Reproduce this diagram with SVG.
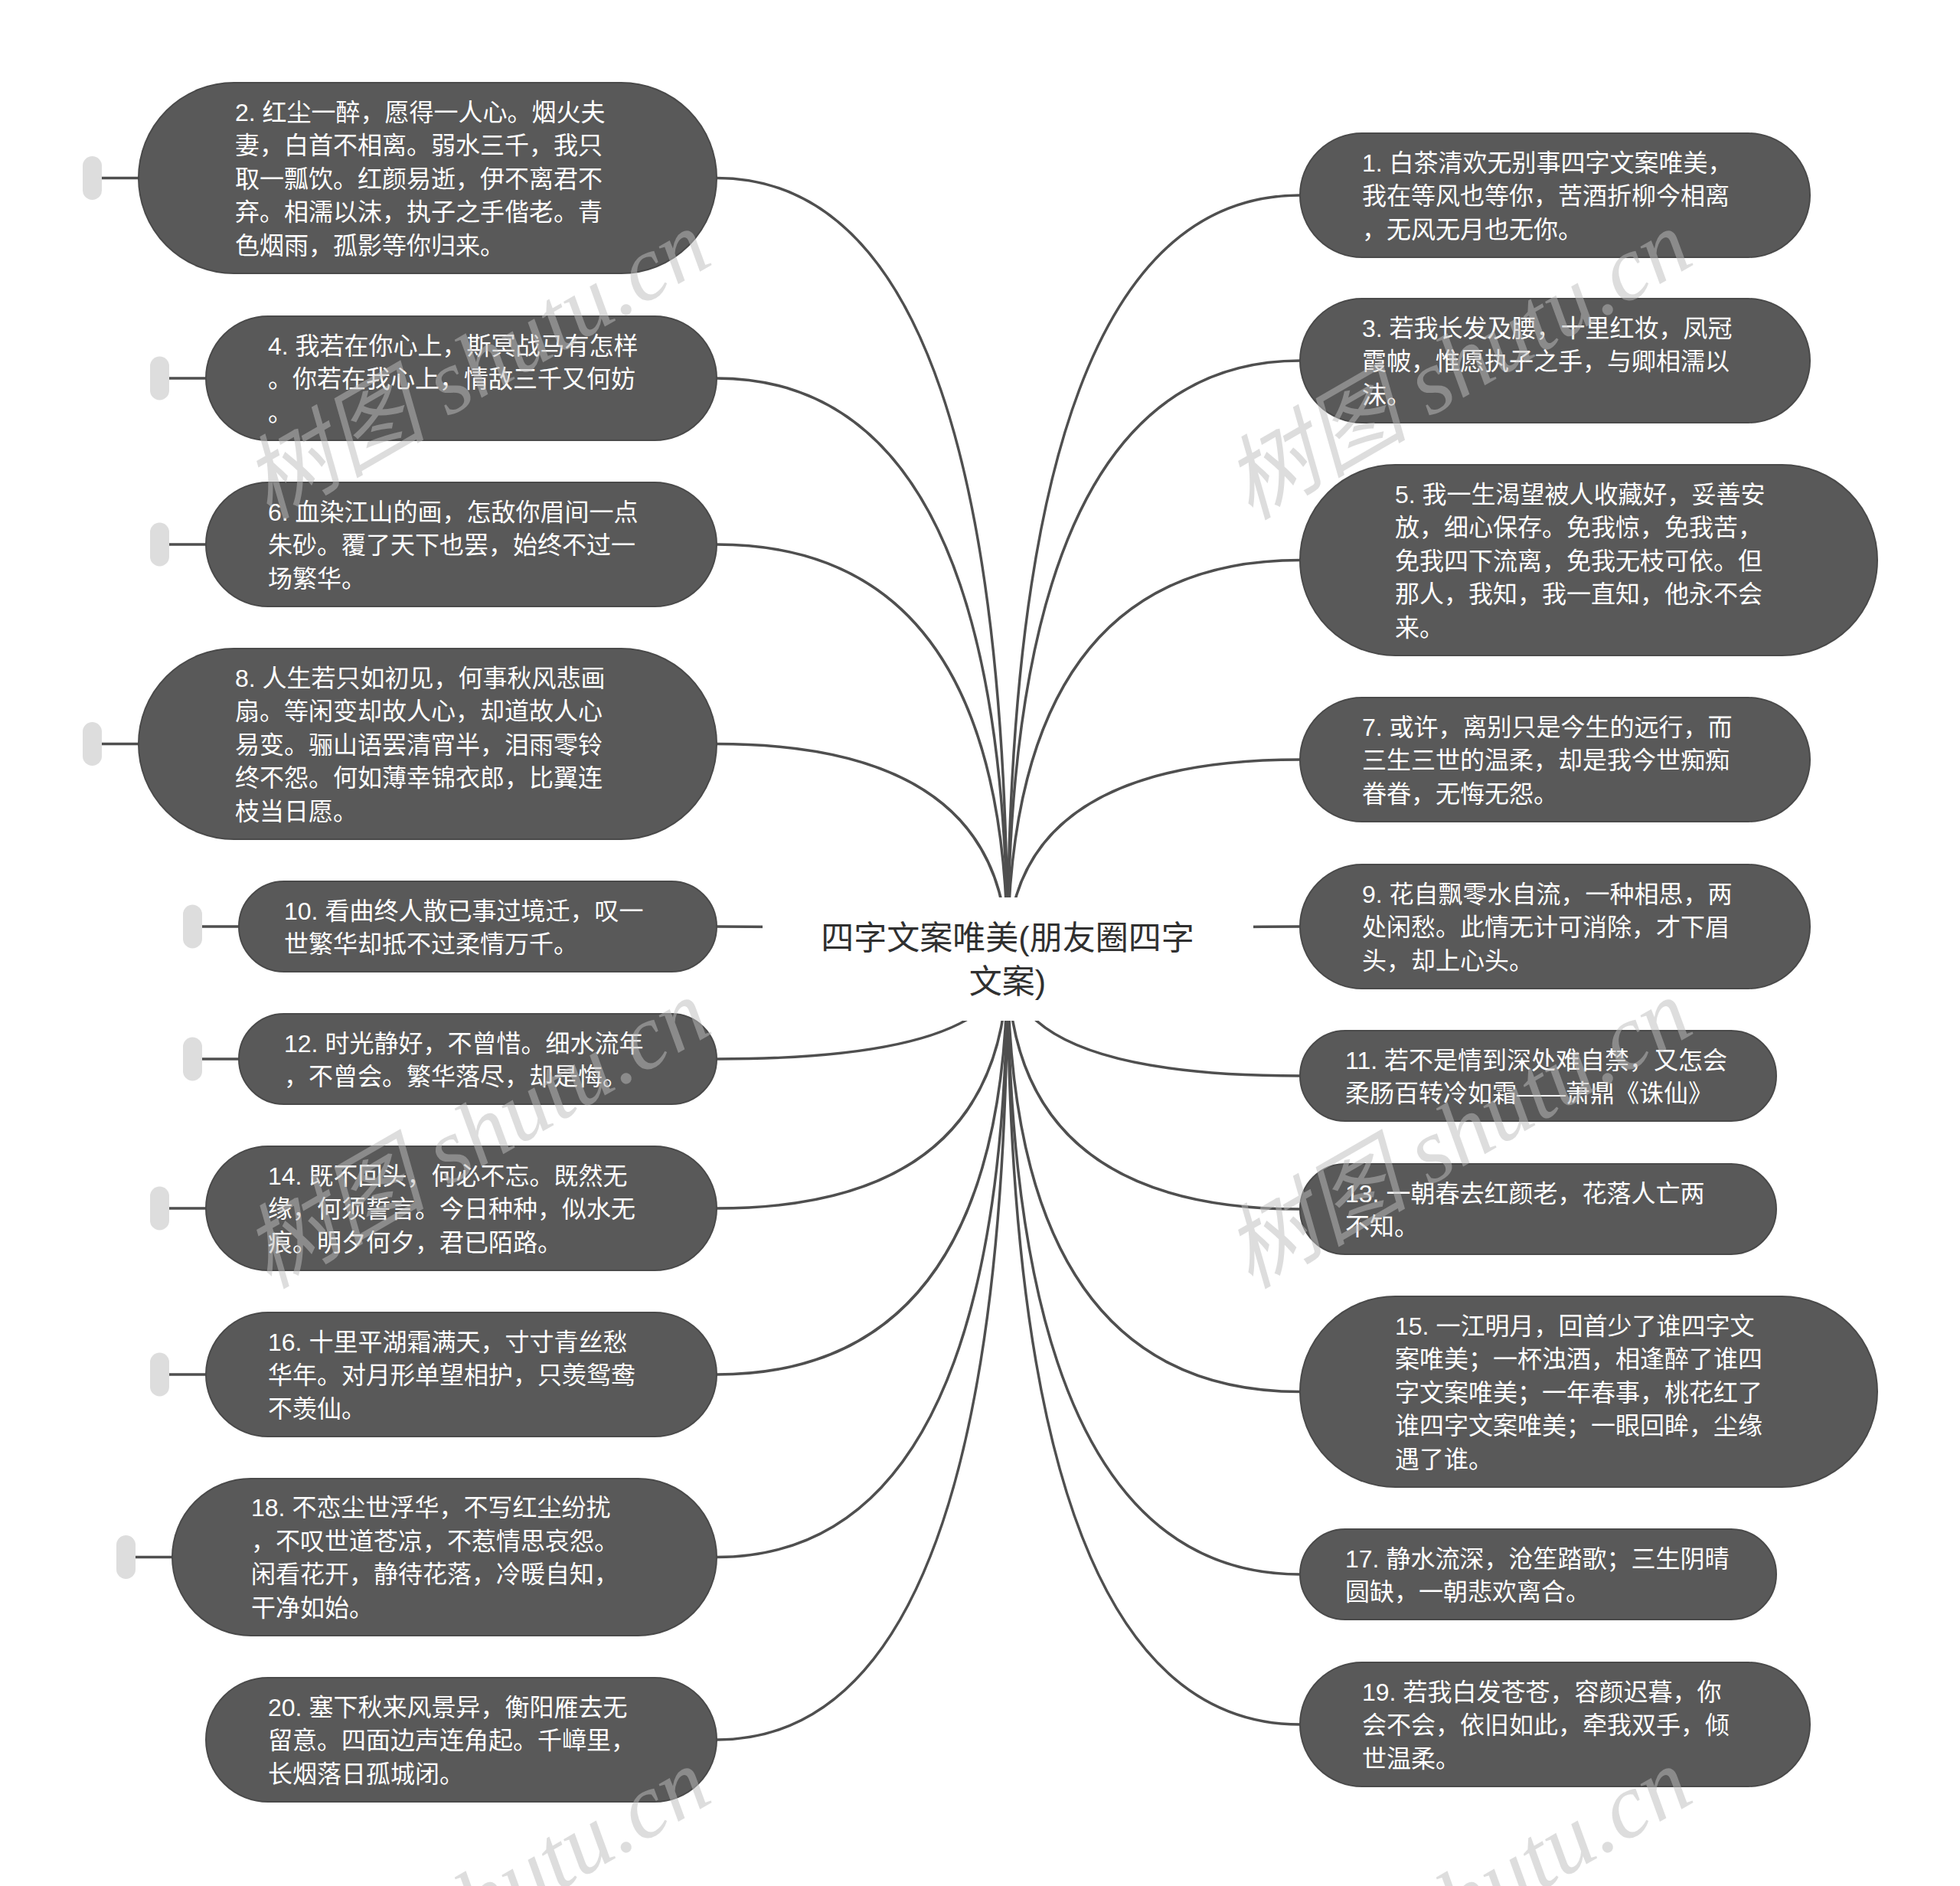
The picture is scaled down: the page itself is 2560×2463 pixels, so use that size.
<svg xmlns="http://www.w3.org/2000/svg" width="2560" height="2463" viewBox="0 0 2560 2463">
<style>
.bg{fill:#ffffff}
.edge{fill:none;stroke:#4f4f4f;stroke-width:3.5}
.box{fill:#595959;stroke:#4a4a4a;stroke-width:2}
.pill{fill:#dddddd}
.t{font-family:"Liberation Sans","Noto Sans CJK SC",sans-serif;font-size:32px;fill:#ffffff}
.root{font-family:"Liberation Sans","Noto Sans CJK SC",sans-serif;font-size:43px;fill:#303030;text-anchor:middle}
.wm{font-family:"Liberation Serif","Noto Sans CJK SC",serif;font-style:italic;font-size:120px;fill:#bdbdbd;opacity:0.5}
</style>
<rect class="bg" x="0" y="0" width="2560" height="2463"/>
<g id="connectors">
<path class="edge" d="M936 232.5 Q1316 232.5 1316 1252"/>
<path class="edge" d="M936 494 Q1316 494 1316 1252"/>
<path class="edge" d="M936 711 Q1316 711 1316 1252"/>
<path class="edge" d="M936 971.5 Q1316 971.5 1316 1252"/>
<path class="edge" d="M936 1210 Q1316 1210 1316 1252"/>
<path class="edge" d="M936 1383 Q1316 1383 1316 1252"/>
<path class="edge" d="M936 1578 Q1316 1578 1316 1252"/>
<path class="edge" d="M936 1795 Q1316 1795 1316 1252"/>
<path class="edge" d="M936 2033.5 Q1316 2033.5 1316 1252"/>
<path class="edge" d="M936 2272 Q1316 2272 1316 1252"/>
<path class="edge" d="M1698 255 Q1316 255 1316 1252"/>
<path class="edge" d="M1698 471 Q1316 471 1316 1252"/>
<path class="edge" d="M1698 731.5 Q1316 731.5 1316 1252"/>
<path class="edge" d="M1698 992 Q1316 992 1316 1252"/>
<path class="edge" d="M1698 1210 Q1316 1210 1316 1252"/>
<path class="edge" d="M1698 1405 Q1316 1405 1316 1252"/>
<path class="edge" d="M1698 1579 Q1316 1579 1316 1252"/>
<path class="edge" d="M1698 1817.5 Q1316 1817.5 1316 1252"/>
<path class="edge" d="M1698 2056 Q1316 2056 1316 1252"/>
<path class="edge" d="M1698 2252 Q1316 2252 1316 1252"/>
<path class="edge" d="M120 232.5 H181"/>
<path class="edge" d="M208 494 H269"/>
<path class="edge" d="M208 711 H269"/>
<path class="edge" d="M120 971.5 H181"/>
<path class="edge" d="M251 1210 H312"/>
<path class="edge" d="M251 1383 H312"/>
<path class="edge" d="M208 1578 H269"/>
<path class="edge" d="M208 1795 H269"/>
<path class="edge" d="M164 2033.5 H225"/>
</g>
<g id="root">
<rect class="bg" x="996" y="1172" width="641" height="161"/>
<text class="root" x="1316" y="1240">四字文案唯美(朋友圈四字</text>
<text class="root" x="1316" y="1297">文案)</text>
</g>
<g id="n2">
<rect class="pill" x="108" y="204" width="25" height="57" rx="12.5"/>
<rect class="box" x="181" y="108" width="755" height="249" rx="124.5"/>
<text class="t"><tspan x="307" y="157.5">2. 红尘一醉，愿得一人心。烟火夫</tspan><tspan x="307" y="201">妻，白首不相离。弱水三千，我只</tspan><tspan x="307" y="244.5">取一瓢饮。红颜易逝，伊不离君不</tspan><tspan x="307" y="288">弃。相濡以沫，执子之手偕老。青</tspan><tspan x="307" y="331.5">色烟雨，孤影等你归来。</tspan></text>
</g>
<g id="n4">
<rect class="pill" x="196" y="465.5" width="25" height="57" rx="12.5"/>
<rect class="box" x="269" y="413" width="667" height="162" rx="81"/>
<text class="t"><tspan x="350" y="462.5">4. 我若在你心上，斯冥战马有怎样</tspan><tspan x="350" y="506">。你若在我心上，情敌三千又何妨</tspan><tspan x="350" y="549.5">。</tspan></text>
</g>
<g id="n6">
<rect class="pill" x="196" y="682.5" width="25" height="57" rx="12.5"/>
<rect class="box" x="269" y="630" width="667" height="162" rx="81"/>
<text class="t"><tspan x="350" y="679.5">6. 血染江山的画，怎敌你眉间一点</tspan><tspan x="350" y="723">朱砂。覆了天下也罢，始终不过一</tspan><tspan x="350" y="766.5">场繁华。</tspan></text>
</g>
<g id="n8">
<rect class="pill" x="108" y="943" width="25" height="57" rx="12.5"/>
<rect class="box" x="181" y="847" width="755" height="249" rx="124.5"/>
<text class="t"><tspan x="307" y="896.5">8. 人生若只如初见，何事秋风悲画</tspan><tspan x="307" y="940">扇。等闲变却故人心，却道故人心</tspan><tspan x="307" y="983.5">易变。骊山语罢清宵半，泪雨零铃</tspan><tspan x="307" y="1027">终不怨。何如薄幸锦衣郎，比翼连</tspan><tspan x="307" y="1070.5">枝当日愿。</tspan></text>
</g>
<g id="n10">
<rect class="pill" x="239" y="1181.5" width="25" height="57" rx="12.5"/>
<rect class="box" x="312" y="1151" width="624" height="118" rx="59"/>
<text class="t"><tspan x="371" y="1200.5">10. 看曲终人散已事过境迁，叹一</tspan><tspan x="371" y="1244">世繁华却抵不过柔情万千。</tspan></text>
</g>
<g id="n12">
<rect class="pill" x="239" y="1354.5" width="25" height="57" rx="12.5"/>
<rect class="box" x="312" y="1324" width="624" height="118" rx="59"/>
<text class="t"><tspan x="371" y="1373.5">12. 时光静好，不曾惜。细水流年</tspan><tspan x="371" y="1417">，不曾会。繁华落尽，却是悔。</tspan></text>
</g>
<g id="n14">
<rect class="pill" x="196" y="1549.5" width="25" height="57" rx="12.5"/>
<rect class="box" x="269" y="1497" width="667" height="162" rx="81"/>
<text class="t"><tspan x="350" y="1546.5">14. 既不回头，何必不忘。既然无</tspan><tspan x="350" y="1590">缘，何须誓言。今日种种，似水无</tspan><tspan x="350" y="1633.5">痕。明夕何夕，君已陌路。</tspan></text>
</g>
<g id="n16">
<rect class="pill" x="196" y="1766.5" width="25" height="57" rx="12.5"/>
<rect class="box" x="269" y="1714" width="667" height="162" rx="81"/>
<text class="t"><tspan x="350" y="1763.5">16. 十里平湖霜满天，寸寸青丝愁</tspan><tspan x="350" y="1807">华年。对月形单望相护，只羡鸳鸯</tspan><tspan x="350" y="1850.5">不羡仙。</tspan></text>
</g>
<g id="n18">
<rect class="pill" x="152" y="2005" width="25" height="57" rx="12.5"/>
<rect class="box" x="225" y="1931" width="711" height="205" rx="102.5"/>
<text class="t"><tspan x="328" y="1980.25">18. 不恋尘世浮华，不写红尘纷扰</tspan><tspan x="328" y="2023.75">，不叹世道苍凉，不惹情思哀怨。</tspan><tspan x="328" y="2067.25">闲看花开，静待花落，冷暖自知，</tspan><tspan x="328" y="2110.75">干净如始。</tspan></text>
</g>
<g id="n20">
<rect class="box" x="269" y="2191" width="667" height="162" rx="81"/>
<text class="t"><tspan x="350" y="2240.5">20. 塞下秋来风景异，衡阳雁去无</tspan><tspan x="350" y="2284">留意。四面边声连角起。千嶂里，</tspan><tspan x="350" y="2327.5">长烟落日孤城闭。</tspan></text>
</g>
<g id="n1">
<rect class="box" x="1698" y="174" width="666" height="162" rx="81"/>
<text class="t"><tspan x="1779" y="223.5">1. 白茶清欢无别事四字文案唯美，</tspan><tspan x="1779" y="267">我在等风也等你，苦酒折柳今相离</tspan><tspan x="1779" y="310.5">，无风无月也无你。</tspan></text>
</g>
<g id="n3">
<rect class="box" x="1698" y="390" width="666" height="162" rx="81"/>
<text class="t"><tspan x="1779" y="439.5">3. 若我长发及腰，十里红妆，凤冠</tspan><tspan x="1779" y="483">霞帔，惟愿执子之手，与卿相濡以</tspan><tspan x="1779" y="526.5">沫。</tspan></text>
</g>
<g id="n5">
<rect class="box" x="1698" y="607" width="754" height="249" rx="124.5"/>
<text class="t"><tspan x="1822" y="656.5">5. 我一生渴望被人收藏好，妥善安</tspan><tspan x="1822" y="700">放，细心保存。免我惊，免我苦，</tspan><tspan x="1822" y="743.5">免我四下流离，免我无枝可依。但</tspan><tspan x="1822" y="787">那人，我知，我一直知，他永不会</tspan><tspan x="1822" y="830.5">来。</tspan></text>
</g>
<g id="n7">
<rect class="box" x="1698" y="911" width="666" height="162" rx="81"/>
<text class="t"><tspan x="1779" y="960.5">7. 或许，离别只是今生的远行，而</tspan><tspan x="1779" y="1004">三生三世的温柔，却是我今世痴痴</tspan><tspan x="1779" y="1047.5">眷眷，无悔无怨。</tspan></text>
</g>
<g id="n9">
<rect class="box" x="1698" y="1129" width="666" height="162" rx="81"/>
<text class="t"><tspan x="1779" y="1178.5">9. 花自飘零水自流，一种相思，两</tspan><tspan x="1779" y="1222">处闲愁。此情无计可消除，才下眉</tspan><tspan x="1779" y="1265.5">头，却上心头。</tspan></text>
</g>
<g id="n11">
<rect class="box" x="1698" y="1346" width="622" height="118" rx="59"/>
<text class="t"><tspan x="1757" y="1395.5">11. 若不是情到深处难自禁，又怎会</tspan><tspan x="1757" y="1439">柔肠百转冷如霜——萧鼎《诛仙》</tspan></text>
</g>
<g id="n13">
<rect class="box" x="1698" y="1520" width="622" height="118" rx="59"/>
<text class="t"><tspan x="1757" y="1569.5">13. 一朝春去红颜老，花落人亡两</tspan><tspan x="1757" y="1613">不知。</tspan></text>
</g>
<g id="n15">
<rect class="box" x="1698" y="1693" width="754" height="249" rx="124.5"/>
<text class="t"><tspan x="1822" y="1742.5">15. 一江明月，回首少了谁四字文</tspan><tspan x="1822" y="1786">案唯美；一杯浊酒，相逢醉了谁四</tspan><tspan x="1822" y="1829.5">字文案唯美；一年春事，桃花红了</tspan><tspan x="1822" y="1873">谁四字文案唯美；一眼回眸，尘缘</tspan><tspan x="1822" y="1916.5">遇了谁。</tspan></text>
</g>
<g id="n17">
<rect class="box" x="1698" y="1997" width="622" height="118" rx="59"/>
<text class="t"><tspan x="1757" y="2046.5">17. 静水流深，沧笙踏歌；三生阴晴</tspan><tspan x="1757" y="2090">圆缺，一朝悲欢离合。</tspan></text>
</g>
<g id="n19">
<rect class="box" x="1698" y="2171" width="666" height="162" rx="81"/>
<text class="t"><tspan x="1779" y="2220.5">19. 若我白发苍苍，容颜迟暮，你</tspan><tspan x="1779" y="2264">会不会，依旧如此，牵我双手，倾</tspan><tspan x="1779" y="2307.5">世温柔。</tspan></text>
</g>
<g id="watermarks">
<text class="wm" x="351" y="680" transform="rotate(-30 351 680)">树图 shutu.cn</text>
<text class="wm" x="1633" y="680" transform="rotate(-30 1633 680)">树图 shutu.cn</text>
<text class="wm" x="351" y="1684" transform="rotate(-30 351 1684)">树图 shutu.cn</text>
<text class="wm" x="1633" y="1684" transform="rotate(-30 1633 1684)">树图 shutu.cn</text>
<text class="wm" x="351" y="2688" transform="rotate(-30 351 2688)">树图 shutu.cn</text>
<text class="wm" x="1633" y="2688" transform="rotate(-30 1633 2688)">树图 shutu.cn</text>
</g>
</svg>
